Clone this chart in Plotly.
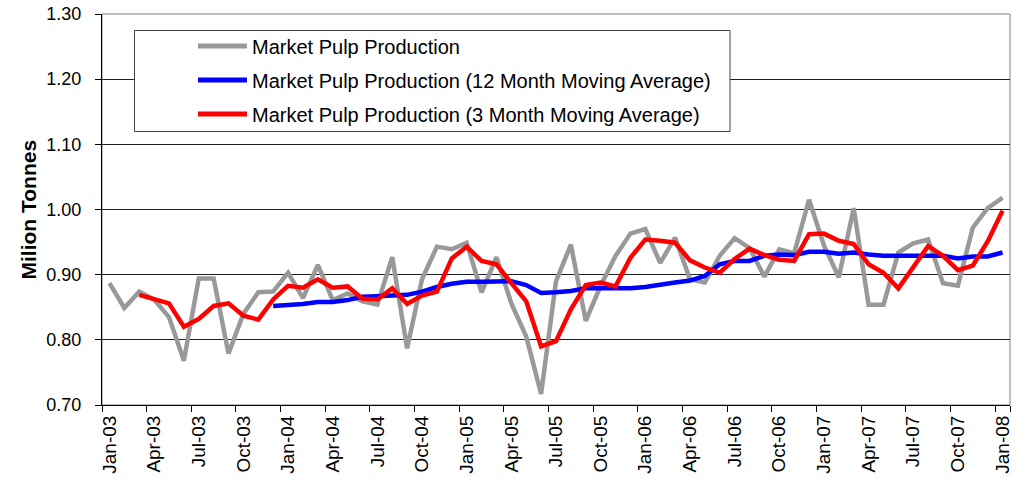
import plotly.graph_objects as go

month_names = ["Jan", "Feb", "Mar", "Apr", "May", "Jun", "Jul", "Aug", "Sep", "Oct", "Nov", "Dec"]
years = ["03", "04", "05", "06", "07", "08"]
categories = [f"{m}-{y}" for y in years for m in month_names][:61]  # Jan-03 .. Jan-08

production = [
    0.887, 0.849, 0.874, 0.862, 0.835, 0.768, 0.894, 0.894, 0.779, 0.840, 0.873, 0.874,
    0.903, 0.864, 0.915, 0.861, 0.871, 0.859, 0.854, 0.927, 0.787, 0.893, 0.943, 0.939,
    0.949, 0.873, 0.927, 0.856, 0.805, 0.717, 0.890, 0.946, 0.829, 0.883, 0.929, 0.963,
    0.970, 0.918, 0.957, 0.893, 0.888, 0.929, 0.956, 0.941, 0.897, 0.939, 0.933, 1.015,
    0.945, 0.896, 1.002, 0.854, 0.854, 0.934, 0.948, 0.954, 0.887, 0.883, 0.972, 1.002,
    1.018,
]

ma12 = [None] * 11 + [
    0.852,
    0.853, 0.855, 0.858, 0.858, 0.861, 0.866, 0.867, 0.868, 0.869, 0.874, 0.881, 0.886,
    0.889, 0.889, 0.890, 0.890, 0.884, 0.872, 0.873, 0.875, 0.879, 0.879, 0.878, 0.879,
    0.881, 0.885, 0.888, 0.891, 0.898, 0.916, 0.921, 0.921, 0.929, 0.931, 0.930, 0.935,
    0.935, 0.932, 0.934, 0.931, 0.929, 0.929, 0.929, 0.930, 0.929, 0.925, 0.928, 0.928,
    0.934,
]

ma3 = [None] * 2 + [
    0.869, 0.862, 0.856, 0.820, 0.832, 0.852, 0.856, 0.837, 0.831, 0.862,
    0.883, 0.880, 0.893, 0.880, 0.882, 0.863, 0.862, 0.879, 0.855, 0.868, 0.874, 0.925,
    0.943, 0.921, 0.916, 0.887, 0.859, 0.790, 0.798, 0.847, 0.884, 0.888, 0.882, 0.926,
    0.954, 0.952, 0.949, 0.922, 0.911, 0.903, 0.924, 0.940, 0.930, 0.923, 0.921, 0.962,
    0.963, 0.952, 0.947, 0.916, 0.903, 0.879, 0.911, 0.944, 0.929, 0.907, 0.914, 0.951,
    0.998,
]

series_names = [
    "Market Pulp Production",
    "Market Pulp Production (12 Month Moving Average)",
    "Market Pulp Production (3 Month Moving Average)",
]
series_colors = ["#999999", "#0000FF", "#FF0000"]
tick_labels = categories[::3]
y_ticks = [0.70, 0.80, 0.90, 1.00, 1.10, 1.20, 1.30]

FONT = "Liberation Sans, Arial, sans-serif"
W, H = 1027, 483
L, R, T, B = 102, 17, 14, 78
PW, PH = W - L - R, H - T - B

fig = go.Figure()
for name, vals, col in zip(series_names, [production, ma12, ma3], series_colors):
    fig.add_trace(go.Scatter(
        x=categories, y=vals, name=name, mode="lines",
        line=dict(color=col, width=4.5), connectgaps=False,
        showlegend=False,
    ))


def px(xp):
    return (xp - L) / PW


def py(yp):
    return (T + PH - yp) / PH


shapes = []
annotations = []
# plot area border (gray)
shapes.append(dict(type="rect", xref="paper", yref="paper", x0=0, x1=1, y0=0, y1=1,
                   line=dict(color="#808080", width=1), layer="below"))
# custom legend box
shapes.append(dict(type="rect", xref="paper", yref="paper",
                   x0=px(134.5), x1=px(730), y0=py(131.5), y1=py(30.5),
                   line=dict(color="#404040", width=1), fillcolor="white", layer="above"))
for i, (name, col) in enumerate(zip(series_names, series_colors)):
    yc = 46 + 34 * i
    shapes.append(dict(type="line", xref="paper", yref="paper",
                       x0=px(198), x1=px(247), y0=py(yc), y1=py(yc),
                       line=dict(color=col, width=5), layer="above"))
    annotations.append(dict(xref="paper", yref="paper", x=px(250), y=py(yc + 1),
                            text=name, showarrow=False, xanchor="left", yanchor="middle",
                            font=dict(family=FONT, size=20, color="black")))

# y-axis title
annotations.append(dict(xref="paper", yref="paper", x=px(28), y=0.5,
                        text="<b>Milion Tonnes</b>", showarrow=False, textangle=-90,
                        xanchor="center", yanchor="middle",
                        font=dict(family=FONT, size=21, color="black")))

fig.update_layout(
    width=W, height=H,
    margin=dict(l=L, r=R, t=T, b=B, pad=0, autoexpand=False),
    paper_bgcolor="white", plot_bgcolor="white",
    shapes=shapes, annotations=annotations,
    showlegend=False,
    font=dict(family=FONT, color="black"),
)
fig.update_xaxes(
    type="category", categoryorder="array", categoryarray=categories,
    range=[-0.5, 60.5], automargin=False,
    tickmode="array", tickvals=tick_labels, ticktext=tick_labels,
    tickson="boundaries", ticks="outside", ticklen=6, tickcolor="black",
    tickangle=-90, tickfont=dict(family=FONT, size=19, color="black"),
    showline=True, linecolor="black", linewidth=1, showgrid=False,
    zeroline=False, ticklabelstandoff=2,
)
fig.update_yaxes(
    range=[0.70, 1.30], tickmode="array", tickvals=y_ticks, automargin=False,
    tickformat=".2f", ticks="outside", ticklen=6, tickcolor="black",
    tickfont=dict(family=FONT, size=18, color="black"),
    showline=True, linecolor="black", linewidth=1,
    showgrid=True, gridcolor="#202020", gridwidth=1,
    zeroline=False, ticklabelstandoff=10,
)

fig.write_html("out.html", config={"displayModeBar": False},
               post_script="document.body.style.margin='0';")
